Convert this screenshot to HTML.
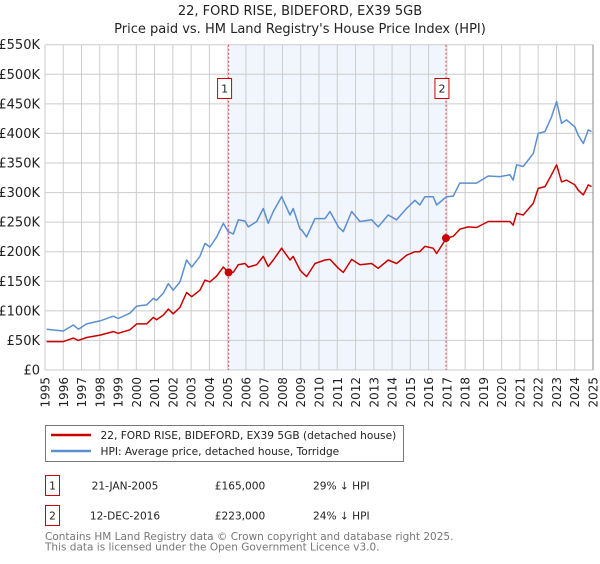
<!DOCTYPE html>
<html><head><meta charset="utf-8"><style>
body{margin:0;background:#fff;font-family:"DejaVu Sans","Liberation Sans",sans-serif;}
svg text{font-family:"DejaVu Sans","Liberation Sans",sans-serif;}
</style></head><body>
<svg id="c" width="600" height="560" viewBox="0 0 600 560" xmlns="http://www.w3.org/2000/svg">
<text x="300" y="15" text-anchor="middle" font-size="13" fill="#222">22, FORD RISE, BIDEFORD, EX39 5GB</text>
<text x="300" y="33" text-anchor="middle" font-size="13" fill="#222">Price paid vs. HM Land Registry's House Price Index (HPI)</text>
<g id="grid"></g><g id="marks"></g><g id="axes"></g>
<g>
<rect x="45.5" y="425.5" width="358" height="36" fill="#fff" stroke="#777"/>
<line x1="51" y1="435" x2="91" y2="435" stroke="#cc0000" stroke-width="2.5"/>
<text x="100.5" y="439" font-size="10.6" fill="#222">22, FORD RISE, BIDEFORD, EX39 5GB (detached house)</text>
<line x1="51" y1="451" x2="91" y2="451" stroke="#5b8fd0" stroke-width="2.5"/>
<text x="100.5" y="455" font-size="10.6" fill="#222">HPI: Average price, detached house, Torridge</text>
</g>
<g font-size="10.6" fill="#222">
<rect x="45.5" y="475.5" width="14" height="20" fill="none" stroke="#cc0000"/>
<text x="52.5" y="489.5" text-anchor="middle">1</text>
<text x="125" y="489.5" text-anchor="middle">21-JAN-2005</text>
<text x="240" y="489.5" text-anchor="middle">£165,000</text>
<text x="313" y="489.5">29% ↓ HPI</text>
<rect x="45.5" y="505.5" width="14" height="20" fill="none" stroke="#cc0000"/>
<text x="52.5" y="519.5" text-anchor="middle">2</text>
<text x="125" y="519.5" text-anchor="middle">12-DEC-2016</text>
<text x="240" y="519.5" text-anchor="middle">£223,000</text>
<text x="313" y="519.5">24% ↓ HPI</text>
</g>
<text x="45" y="540" font-size="10.5" fill="#777">Contains HM Land Registry data © Crown copyright and database right 2025.</text>
<text x="45" y="550.5" font-size="10.5" fill="#777">This data is licensed under the Open Government Licence v3.0.</text>
</svg>
<script>
const dates=[1995.09,1996.00,1996.55,1996.83,1997.28,1998.01,1998.74,1999.01,1999.65,2000.02,2000.56,2000.93,2001.11,2001.48,2001.75,2002.02,2002.39,2002.75,2003.03,2003.48,2003.76,2004.03,2004.40,2004.76,2005.03,2005.31,2005.58,2005.95,2006.13,2006.59,2006.95,2007.22,2007.50,2007.95,2008.41,2008.59,2008.96,2009.05,2009.32,2009.78,2010.33,2010.60,2011.06,2011.33,2011.79,2012.24,2012.88,2013.24,2013.79,2014.25,2014.79,2015.25,2015.52,2015.80,2016.25,2016.44,2016.98,2017.35,2017.71,2018.17,2018.63,2019.27,2019.90,2020.45,2020.63,2020.82,2021.18,2021.73,2022.00,2022.37,2022.73,2023.01,2023.28,2023.55,2024.01,2024.19,2024.47,2024.74,2024.92];
const hpi=[69,66,76,69,78,83,91,87,96,108,110,121,118,130,146,135,149,186,174,192,214,208,225,248,234,230,254,252,242,251,273,248,268,293,262,273,238,237,225,256,256,268,242,234,268,251,254,242,262,254,273,287,279,293,293,279,293,294,316,316,316,328,327,330,321,347,344,366,400,403,428,454,417,423,411,397,383,406,403];
const paid=[48,48,54,50,55,59,65,62,68,78,78,89,85,93,103,95,106,131,124,135,152,149,159,174,165,165,178,180,174,178,192,175,186,206,186,192,169,166,158,180,186,187,172,165,187,178,180,172,186,180,194,200,200,209,206,197,223,226,238,242,241,251,251,251,245,265,262,282,307,310,330,347,318,321,313,304,296,313,310];
const saleDates=[2005.05,2016.95];
const salePrices=[165,223];
const saleLabels=["1","2"];
const yTicks=[0,50,100,150,200,250,300,350,400,450,500,550];
const xTicks=[1995,1996,1997,1998,1999,2000,2001,2002,2003,2004,2005,2006,2007,2008,2009,2010,2011,2012,2013,2014,2015,2016,2017,2018,2019,2020,2021,2022,2023,2024,2025];
const L=45,R=593,T=44.7,B=370;
const X=v=>L+(v-1995)/30*(R-L);
const Y=v=>B-v/550*(B-T);
const NS="http://www.w3.org/2000/svg";
function mk(parent,tag,attrs,txt){const e=document.createElementNS(NS,tag);for(const k in attrs)e.setAttribute(k,attrs[k]);if(txt!==undefined)e.textContent=txt;parent.appendChild(e);return e;}
const grid=document.getElementById('grid'),marks=document.getElementById('marks'),axes=document.getElementById('axes');
const sh=mk(grid,'rect',{x:X(saleDates[0]),y:T,width:X(saleDates[1])-X(saleDates[0]),height:B-T,fill:'#f1f5fd'});


xTicks.forEach(t=>{
  const g=mk(grid,'line',{x1:X(t),x2:X(t),y1:T,y2:B,stroke:'#cccccc','stroke-width':1});
  
  
  const tx=mk(axes,'text',{transform:`translate(${X(t)+4.5},${B+7}) rotate(-90)`,'text-anchor':'end','font-size':12,fill:'#222'},String(t));
  
  
});
yTicks.forEach(t=>{
  const g=mk(grid,'line',{x1:L,x2:R,y1:Y(t),y2:Y(t),stroke:'#cccccc','stroke-width':1});
  
  
  const tx=mk(axes,'text',{x:40,y:Y(t)+4.5,'text-anchor':'end','font-size':13,fill:'#222'},t===0?'£0':'£'+t+'K');
  
  
});
const rl=mk(grid,'line',{x1:R,x2:R,y1:T,y2:B,stroke:'#888','stroke-width':1});


saleDates.forEach((d,i)=>{
  const v=mk(marks,'line',{x1:X(d),x2:X(d),y1:T,y2:B,stroke:'#e05050','stroke-width':1,'stroke-dasharray':'2,2'});
  
  
  const bx=mk(marks,'rect',{x:X(d)-11,y:78.5,width:14,height:20,fill:'#fff',stroke:'#cc0000'});
  
  
  const lt=mk(marks,'text',{x:X(d)-4,y:92.5,'text-anchor':'middle','font-size':11,fill:'#222'},saleLabels[i]);
  
  
});
const pts=a=>a.map((v,i)=>X(dates[i]).toFixed(1)+','+Y(v).toFixed(1)).join(' ');
const hl=mk(marks,'polyline',{points:pts(hpi),fill:'none',stroke:'#5b8fd0','stroke-width':1.5,'stroke-linejoin':'round'});


const pl=mk(marks,'polyline',{points:pts(paid),fill:'none',stroke:'#cc0000','stroke-width':1.5,'stroke-linejoin':'round'});


saleDates.forEach((d,i)=>{
  const c=mk(marks,'circle',{cx:X(d),cy:Y(salePrices[i]),r:4,fill:'#cc0000'});
  
  
});
</script>
</body></html>
